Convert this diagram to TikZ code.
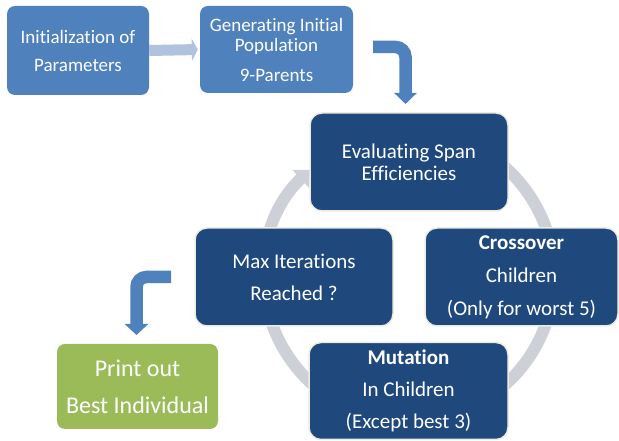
\documentclass[tikz,border=0pt]{standalone}
\usepackage{fontspec}
\setmainfont{Carlito}[Ligatures={NoCommon}]
\usetikzlibrary{arrows.meta}
\definecolor{lightbox}{HTML}{4F81BD}
\definecolor{darkbox}{HTML}{1F497D}
\definecolor{boxedge}{HTML}{EEECE1}
\definecolor{greenbox}{HTML}{9BBB59}
\definecolor{ringgrey}{HTML}{CDD0D7}
\definecolor{lightarrow}{HTML}{B0C2DC}
\tikzset{
  lbox/.style={draw=none, fill=lightbox, rounded corners=8pt, text=white, align=center, inner sep=0pt},
  dbox/.style={draw=boxedge, line width=1.5pt, fill=darkbox, rounded corners=12pt, text=white, align=center, inner sep=0pt},
  gbox/.style={draw=none, fill=greenbox, rounded corners=8pt, text=white, align=center, inner sep=0pt},
  bentarrow/.style={draw=lightbox, line width=12.5pt, rounded corners=10pt, -{Triangle[width=22pt,length=11pt]}},
}
\begin{document}
\begin{tikzpicture}[x=1pt,y=1pt]
\useasboundingbox (0,0) rectangle (619,441);
% ring
\draw[ringgrey, line width=12pt, -{Triangle[width=24pt,length=13pt]}]
  (409,165) ++(125:145) arc[start angle=125, end angle=-227, radius=145];
% top boxes
\node[lbox, minimum width=142pt, minimum height=89pt, font=\fontsize{19}{28}\selectfont] (init) at (78,390.5) {Initialization of\\Parameters};
\node[lbox, minimum width=153pt, minimum height=87pt, font=\fontsize{19}{20}\selectfont] (gen) at (276.5,391.5) {Generating Initial\\Population\\[10pt]9-Parents};
% cycle boxes
\node[dbox, minimum width=198pt, minimum height=98pt, font=\fontsize{21}{22}\selectfont] (eval) at (409,279) {Evaluating Span\\Efficiencies};
\node[dbox, minimum width=193pt, minimum height=98pt, font=\fontsize{21}{33}\selectfont] (cross) at (521.5,164) {\textbf{Crossover}\\Children\\(Only for worst 5)};
\node[dbox, minimum width=199pt, minimum height=97pt, font=\fontsize{21}{32}\selectfont] (mut) at (408.5,50) {\textbf{Mutation}\\In Children\\(Except best 3)};
\node[dbox, minimum width=198pt, minimum height=98pt, font=\fontsize{21}{32}\selectfont] (max) at (294,164) {Max Iterations\\Reached ?};
% output box
\node[gbox, minimum width=161pt, minimum height=85pt, font=\fontsize{24}{37}\selectfont] (out) at (137.5,54.5) {Print out\\Best Individual};
% connectors
\draw[lightarrow, line width=11pt, -{Triangle[width=22pt,length=6pt]}, shorten >=2pt] (init.east) -- (gen.west);
\coordinate (tr) at (373,394);
\coordinate (trend) at (405.5,337);
\draw[bentarrow] (tr) -| (trend);
\coordinate (bl) at (171,164);
\coordinate (blend) at (136.5,106);
\draw[bentarrow, -{Triangle[width=23pt,length=11pt]}] (bl) -| (blend);
\end{tikzpicture}
\end{document}
